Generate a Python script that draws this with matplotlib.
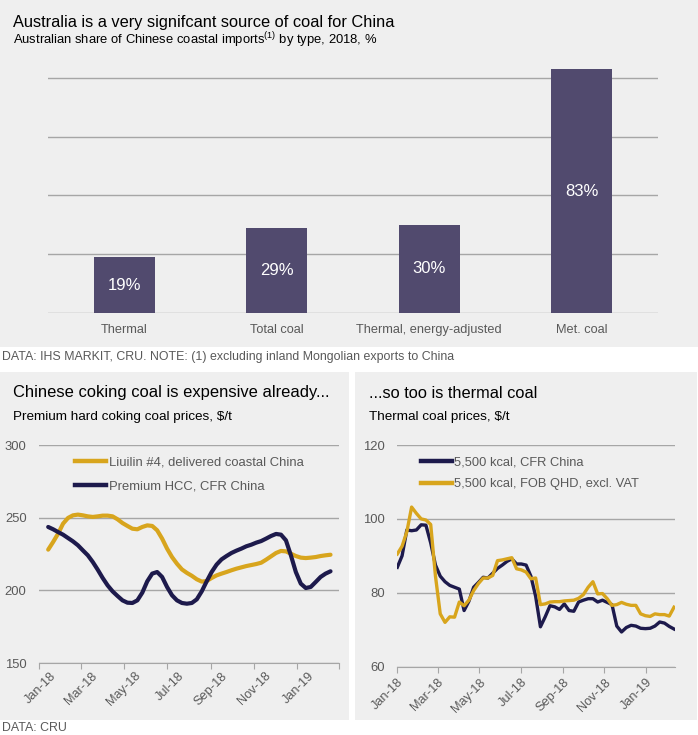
"""
Australia / China coal dashboard: share of imports plus two price panels.
"""

import numpy as np
import pandas as pd
import matplotlib
matplotlib.use("Agg")
import matplotlib.pyplot as plt
import matplotlib.dates as mdates
from matplotlib.patches import Rectangle
from matplotlib.lines import Line2D

plt.rcParams["font.family"] = ["Liberation Sans", "DejaVu Sans"]
plt.rcParams["mathtext.fontset"] = "custom"
plt.rcParams["mathtext.rm"] = "Liberation Sans"

# top chart: Australian share of Chinese coastal imports, 2018
share_types = ["Thermal", "Total coal", "Thermal, energy-adjusted", "Met. coal"]
share_pct = [19, 29, 30, 83]

# bottom left: premium hard coking coal prices, $/t (weekly readings)
coking_dates = pd.date_range("2018-01-14", periods=58, freq="7D")
liuilin = [228, 233.3, 239, 245.9, 249.8, 251.6, 252.1, 251.6, 250.9, 250.5,
           250.9, 251.4, 251.4, 250.9, 248.9, 246.3, 244.3, 242.4, 242, 243.6,
           244.7, 244.3, 241.3, 235.6, 228.7, 222.9, 218.3, 214.4, 212, 210,
           207.6, 206, 206.4, 208.5, 210.3, 211.5, 212.6, 213.8, 214.9, 215.8,
           216.7, 217.4, 218.1, 219, 221.1, 223.4, 225.7, 227.1, 226.8, 225.2,
           223.6, 222.5, 222.2, 222.5, 222.9, 223.6, 224.1, 224.5]
premium_hcc = [243.6, 242, 240.1, 238.3, 236, 233.7, 231, 227.5, 224.1, 219.5,
               214.2, 208.5, 203.4, 199.3, 196.1, 193.1, 191.5, 191.3, 193.1, 198.4,
               206.2, 211.5, 212.6, 209.2, 202.3, 196.6, 193.1, 191.3, 190.8, 191.3,
               193.8, 199.3, 206.2, 212.6, 217.7, 221.3, 223.6, 225.7, 227.3, 228.7,
               230.3, 231.4, 232.8, 233.9, 235.6, 237.4, 238.8, 238.3, 234.4, 224.1,
               212.6, 204.6, 201.6, 202.3, 205.7, 209.2, 211.5, 213.1]

# bottom right: thermal coal prices, $/t (weekly)
thermal_dates = pd.date_range("2018-01-01", periods=59, freq="7D")
cfr_china = [86.9, 90, 97, 96.8, 97, 98.4, 98.3, 93.5, 87.5, 84.5,
             83, 82, 81.5, 81, 75.2, 77.7, 81.5, 82.8, 84.2, 84,
             85.3, 86.6, 87.5, 88.5, 89.2, 87.8, 87.8, 87.5, 84.5, 79,
             70.8, 73.5, 76.5, 76.2, 75.5, 77, 75.2, 75, 77.5, 78,
             78.4, 78.4, 77.5, 78, 77.4, 76.8, 71, 69.4, 70.6, 71.2,
             71, 70.4, 70.3, 70.4, 71, 72.1, 71.8, 70.9, 70.2]
fob_qhd = [90.5, 92.6, 96.5, 103.2, 101.5, 100, 99.7, 98.5, 84.5, 74.3,
           72, 73.5, 73.4, 77.5, 76.5, 78, 80.6, 82.5, 84, 84,
           84.7, 88.7, 88.9, 89.2, 89.5, 86.5, 86.2, 85.6, 83.8, 84,
           76.8, 77, 77.5, 77.6, 77.6, 77.8, 77.9, 78, 78.5, 79.5,
           81.5, 83, 79.7, 79.8, 78.4, 76.6, 76.8, 77.4, 76.9, 76.6,
           76.6, 74.3, 73.8, 73.6, 74.3, 74.1, 74.1, 73.7, 76.1]

BG = "#efefef"
GRID = "#a6a6a6"
BAR = "#514a6e"
NAVY = "#1d1a4c"
GOLD = "#d8a51d"
TXT = "#595959"

W, H = 698, 735
fig = plt.figure(figsize=(W / 100, H / 100), dpi=100)
fig.patch.set_facecolor("white")


def box(x0, y0, x1, y1):
    """pixel box (from top-left) -> figure rect"""
    return [x0 / W, 1 - y1 / H, (x1 - x0) / W, (y1 - y0) / H]


def panel(x0, y0, x1, y1):
    r = box(x0, y0, x1, y1)
    fig.patches.append(Rectangle((r[0], r[1]), r[2], r[3], transform=fig.transFigure,
                                 facecolor=BG, edgecolor="none", zorder=-5))


def ftext(x, y, s, **kw):
    fig.text(x / W, 1 - y / H, s, va="center", **kw)


panel(0, 0, 698, 347)
panel(0, 372, 349, 720)
panel(355, 372, 697, 720)

# ---- top bar chart
ax = fig.add_axes(box(48, 63.3, 658, 313))
ax.set_facecolor("none")
x = np.arange(len(share_types))
ax.bar(x, share_pct, width=0.4, color=BAR, zorder=3)
for xi, v in zip(x, share_pct):
    ax.text(xi, v / 2, f"{v}%", ha="center", va="center", color="white", fontsize=12, zorder=4)
ax.set_xlim(-0.5, len(share_types) - 0.5)
ax.set_ylim(0, 85)
ax.set_yticks([0, 20, 40, 60, 80])
ax.yaxis.grid(True, color=GRID, lw=1)
ax.set_axisbelow(True)
ax.tick_params(axis="y", length=0, labelleft=False)
ax.set_xticks(x, share_types)
ax.tick_params(axis="x", length=0, pad=8, labelsize=9.2, labelcolor=TXT)
for s in ax.spines.values():
    s.set_visible(False)

ftext(13, 22, "Australia is a very signifcant source of coal for China", fontsize=11.8, color="black")
ftext(13, 40, r"Australian share of Chinese coastal imports$^{\mathrm{(1)}}$ by type, 2018, %",
      fontsize=9.4, color="black")
ftext(2, 357, "DATA: IHS MARKIT, CRU. NOTE: (1) excluding inland Mongolian exports to China",
      fontsize=8.9, color=TXT)


def style_price_axes(ax, ylim, yticks):
    ax.set_facecolor("none")
    ax.set_ylim(*ylim)
    ax.set_yticks(yticks)
    ax.yaxis.grid(True, color=GRID, lw=1)
    ax.set_axisbelow(True)
    for name, s in ax.spines.items():
        s.set_visible(name == "bottom")
    ax.spines["bottom"].set_color(GRID)
    ax.tick_params(axis="y", length=0, pad=9, labelsize=9.4, labelcolor=TXT)
    ax.tick_params(axis="x", which="both", direction="out", color=GRID,
                   labelsize=9.2, labelcolor=TXT)


# ---- bottom left: coking coal
ax1 = fig.add_axes(box(39, 445, 339, 663))
style_price_axes(ax1, (150, 300), [150, 200, 250, 300])
ax1.plot(coking_dates, liuilin, color=GOLD, lw=3, solid_capstyle="round",
         solid_joinstyle="round", zorder=3)
ax1.plot(coking_dates, premium_hcc, color=NAVY, lw=3, solid_capstyle="round",
         solid_joinstyle="round", zorder=3)
ax1.set_xlim(pd.Timestamp("2018-01-01"), pd.Timestamp("2019-03-01"))
ax1.xaxis.set_major_locator(mdates.MonthLocator(bymonth=[1, 3, 5, 7, 9, 11]))
ax1.xaxis.set_major_formatter(plt.NullFormatter())
ax1.xaxis.set_minor_locator(mdates.MonthLocator(bymonth=[1, 3, 5, 7, 9, 11], bymonthday=16))
ax1.xaxis.set_minor_formatter(mdates.DateFormatter("%b-%y"))
ax1.tick_params(axis="x", which="major", length=4)
ax1.tick_params(axis="x", which="minor", length=0, pad=5)
for lab in ax1.xaxis.get_minorticklabels():
    lab.set_rotation(45)
    lab.set_ha("right")
    lab.set_rotation_mode("anchor")
ax1.legend(handles=[Line2D([], [], color=GOLD, lw=3.2, label="Liuilin #4, delivered coastal China"),
                    Line2D([], [], color=NAVY, lw=3.2, label="Premium HCC, CFR China")],
           loc="upper left", bbox_to_anchor=(0.08, 1.0), frameon=False, fontsize=9.4,
           labelcolor=TXT, handlelength=2.4, handletextpad=0.25, labelspacing=0.85)

ftext(13, 393, "Chinese coking coal is expensive already...", fontsize=11.9, color="black")
ftext(13, 417, "Premium hard coking coal prices, $/t", fontsize=9.7, color="black")

# ---- bottom right: thermal coal
ax2 = fig.add_axes(box(397.3, 445, 674.7, 666.7))
style_price_axes(ax2, (60, 120), [60, 80, 100, 120])
ax2.plot(thermal_dates, cfr_china, color=NAVY, lw=2.4, solid_joinstyle="round", zorder=3)
ax2.plot(thermal_dates, fob_qhd, color=GOLD, lw=2.4, solid_joinstyle="round", zorder=3)
ax2.set_xlim(pd.Timestamp("2018-01-01"), pd.Timestamp("2019-02-12"))
ax2.xaxis.set_major_locator(mdates.MonthLocator(bymonth=[1, 3, 5, 7, 9, 11]))
ax2.xaxis.set_major_formatter(mdates.DateFormatter("%b-%y"))
ax2.tick_params(axis="x", which="major", length=4, pad=3)
for lab in ax2.get_xticklabels():
    lab.set_rotation(45)
    lab.set_ha("right")
    lab.set_rotation_mode("anchor")
ax2.legend(handles=[Line2D([], [], color=NAVY, lw=3.2, label="5,500 kcal, CFR China"),
                    Line2D([], [], color=GOLD, lw=3.2, label="5,500 kcal, FOB QHD, excl. VAT")],
           loc="upper left", bbox_to_anchor=(0.045, 1.0), frameon=False, fontsize=9.3,
           labelcolor=TXT, handlelength=2.4, handletextpad=0.1, labelspacing=0.75)

ftext(368.7, 393, "...so too is thermal coal", fontsize=11.8, color="black")
ftext(368.7, 417, "Thermal coal prices, $/t", fontsize=9.7, color="black")

ftext(2, 728, "DATA: CRU", fontsize=8.9, color=TXT)

fig.savefig("out.png", dpi=100, facecolor="white")
